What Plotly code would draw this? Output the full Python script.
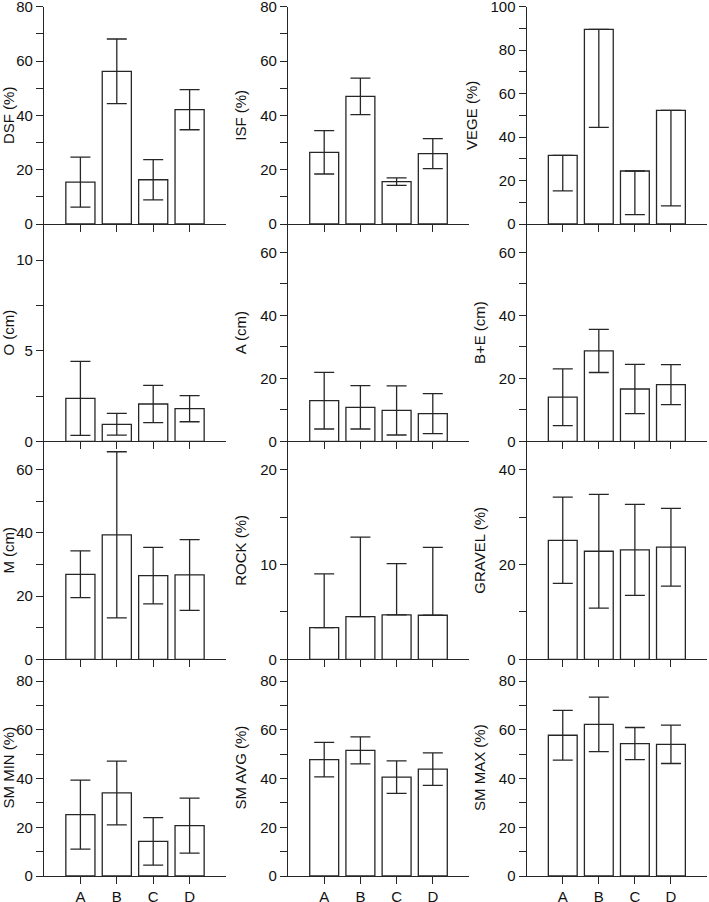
import plotly.graph_objects as go

# ---------------- data ----------------
categories = ["A", "B", "C", "D"]

dsf_mean = [15.4, 56.2, 16.3, 42.1]
dsf_sd = [9.2, 11.9, 7.4, 7.4]
isf_mean = [26.4, 47.0, 15.6, 25.9]
isf_sd = [8.0, 6.7, 1.4, 5.5]
vege_mean = [31.6, 89.6, 24.4, 52.3]
vege_sd_minus = [16.4, 45.1, 20.1, 44.0]

o_mean = [2.37, 0.94, 2.06, 1.80]
o_sd = [2.04, 0.60, 1.03, 0.72]
a_mean = [12.9, 10.8, 9.8, 8.8]
a_sd = [9.0, 6.9, 7.8, 6.35]
be_mean = [14.0, 28.7, 16.6, 18.0]
be_sd = [9.0, 6.85, 7.8, 6.35]

m_mean = [26.9, 39.4, 26.5, 26.7]
m_sd = [7.4, 26.3, 8.95, 11.2]
rock_mean = [3.34, 4.5, 4.68, 4.65]
rock_sd_plus = [5.68, 8.4, 5.42, 7.15]
gravel_mean = [25.1, 22.8, 23.1, 23.65]
gravel_sd = [9.1, 12.0, 9.6, 8.2]

smmin_mean = [25.2, 34.1, 14.2, 20.7]
smmin_sd = [14.2, 13.1, 9.75, 11.3]
smavg_mean = [47.8, 51.6, 40.6, 43.9]
smavg_sd = [7.1, 5.55, 6.65, 6.7]
smmax_mean = [57.8, 62.3, 54.4, 54.1]
smmax_sd = [10.2, 11.2, 6.6, 7.9]

titles = ["DSF (%)", "ISF (%)", "VEGE (%)",
          "O (cm)", "A (cm)", "B+E (cm)",
          "M (cm)", "ROCK (%)", "GRAVEL (%)",
          "SM MIN (%)", "SM AVG (%)", "SM MAX (%)"]

# y-axis tick values (all ticks) and labelled ticks
ticks_0_80 = [0, 10, 20, 30, 40, 50, 60, 70, 80]
labels_0_80 = [0, 20, 40, 60, 80]
ticks_0_100 = [0, 10, 20, 30, 40, 50, 60, 70, 80, 90, 100]
labels_0_100 = [0, 20, 40, 60, 80, 100]
ticks_0_10 = [0, 2.5, 5, 7.5, 10]
labels_0_10 = [0, 5, 10]
ticks_0_60 = [0, 10, 20, 30, 40, 50, 60]
labels_0_60 = [0, 20, 40, 60]
ticks_0_20 = [0, 5, 10, 15, 20]
labels_0_20 = [0, 10, 20]
ticks_0_40 = [0, 10, 20, 30, 40]
labels_0_40 = [0, 20, 40]

y_max = [80, 80, 100, 12, 69, 69, 69, 23, 46, 89, 89, 89]

# ---------------- panels ----------------
panels = [
    (dsf_mean, dsf_sd, None, ticks_0_80, labels_0_80),
    (isf_mean, isf_sd, None, ticks_0_80, labels_0_80),
    (vege_mean, None, ("minus", vege_sd_minus), ticks_0_100, labels_0_100),
    (o_mean, o_sd, None, ticks_0_10, labels_0_10),
    (a_mean, a_sd, None, ticks_0_60, labels_0_60),
    (be_mean, be_sd, None, ticks_0_60, labels_0_60),
    (m_mean, m_sd, None, ticks_0_60, labels_0_60),
    (rock_mean, None, ("plus", rock_sd_plus), ticks_0_20, labels_0_20),
    (gravel_mean, gravel_sd, None, ticks_0_40, labels_0_40),
    (smmin_mean, smmin_sd, None, ticks_0_80, labels_0_80),
    (smavg_mean, smavg_sd, None, ticks_0_80, labels_0_80),
    (smmax_mean, smmax_sd, None, ticks_0_80, labels_0_80),
]

W, H = 709, 902
LINE = "#262626"
LW = 1.3
FONT = dict(family="Liberation Sans, Arial, sans-serif", size=15, color="#111")

col_px = [(44, 226), (288, 469), (526.7, 707)]
row_top_px = [6.7, 224, 441.3, 659.3]
row_zero_px = [224, 441.3, 659.3, 876]

fig = go.Figure()
layout = {}

for i, (mean, sd, one_side, tvals, tlabels) in enumerate(panels):
    r, c = divmod(i, 3)
    xname = "x" if i == 0 else f"x{i+1}"
    yname = "y" if i == 0 else f"y{i+1}"
    if sd is not None:
        err = dict(type="data", array=sd, visible=True)
    else:
        side, vals = one_side
        zeros = [0] * len(vals)
        if side == "minus":
            err = dict(type="data", symmetric=False, array=zeros, arrayminus=vals, visible=True)
        else:
            err = dict(type="data", symmetric=False, array=vals, arrayminus=zeros, visible=True)
    err.update(color=LINE, thickness=LW, width=10)
    fig.add_trace(go.Bar(
        x=categories, y=mean, xaxis=xname, yaxis=yname,
        marker=dict(color="white", line=dict(color=LINE, width=LW)),
        width=0.8, error_y=err, showlegend=False, cliponaxis=False,
    ))

    x0, x1 = col_px[c]
    ytop, yzero = row_top_px[r], row_zero_px[r]
    top = y_max[i]
    xa = dict(
        domain=[x0 / W, x1 / W], anchor=yname, range=[-1, 4],
        showline=True, linecolor=LINE, linewidth=LW,
        ticks="outside", ticklen=7, tickwidth=LW, tickcolor=LINE,
        showticklabels=(r == 3), tickfont=FONT, showgrid=False, zeroline=False,
        ticklabeloverflow="allow", automargin=False,
        fixedrange=True,
    )
    ya = dict(
        domain=[1 - yzero / H, 1 - ytop / H], anchor=xname, range=[0, top],
        showline=True, linecolor=LINE, linewidth=LW,
        ticks="outside", ticklen=7, tickwidth=LW, tickcolor=LINE,
        tickmode="array", tickvals=tvals,
        ticktext=[(f"{v:g}" if v in tlabels else "") for v in tvals],
        tickfont=FONT, showgrid=False, zeroline=False,
        ticklabeloverflow="allow", automargin=False,
        title=dict(text=titles[i], font=FONT, standoff=9),
        fixedrange=True,
    )
    layout["xaxis" if i == 0 else f"xaxis{i+1}"] = xa
    layout["yaxis" if i == 0 else f"yaxis{i+1}"] = ya

fig.update_layout(
    width=W, height=H,
    margin=dict(l=0, r=0, t=0, b=0, autoexpand=False),
    paper_bgcolor="white", plot_bgcolor="rgba(0,0,0,0)",
    font=FONT, showlegend=False, bargap=0.2,
    **layout,
)

fig.write_html(
    "out.html",
    config={"displayModeBar": False},
    post_script="document.body.style.margin='0';document.body.style.padding='0';",
)
